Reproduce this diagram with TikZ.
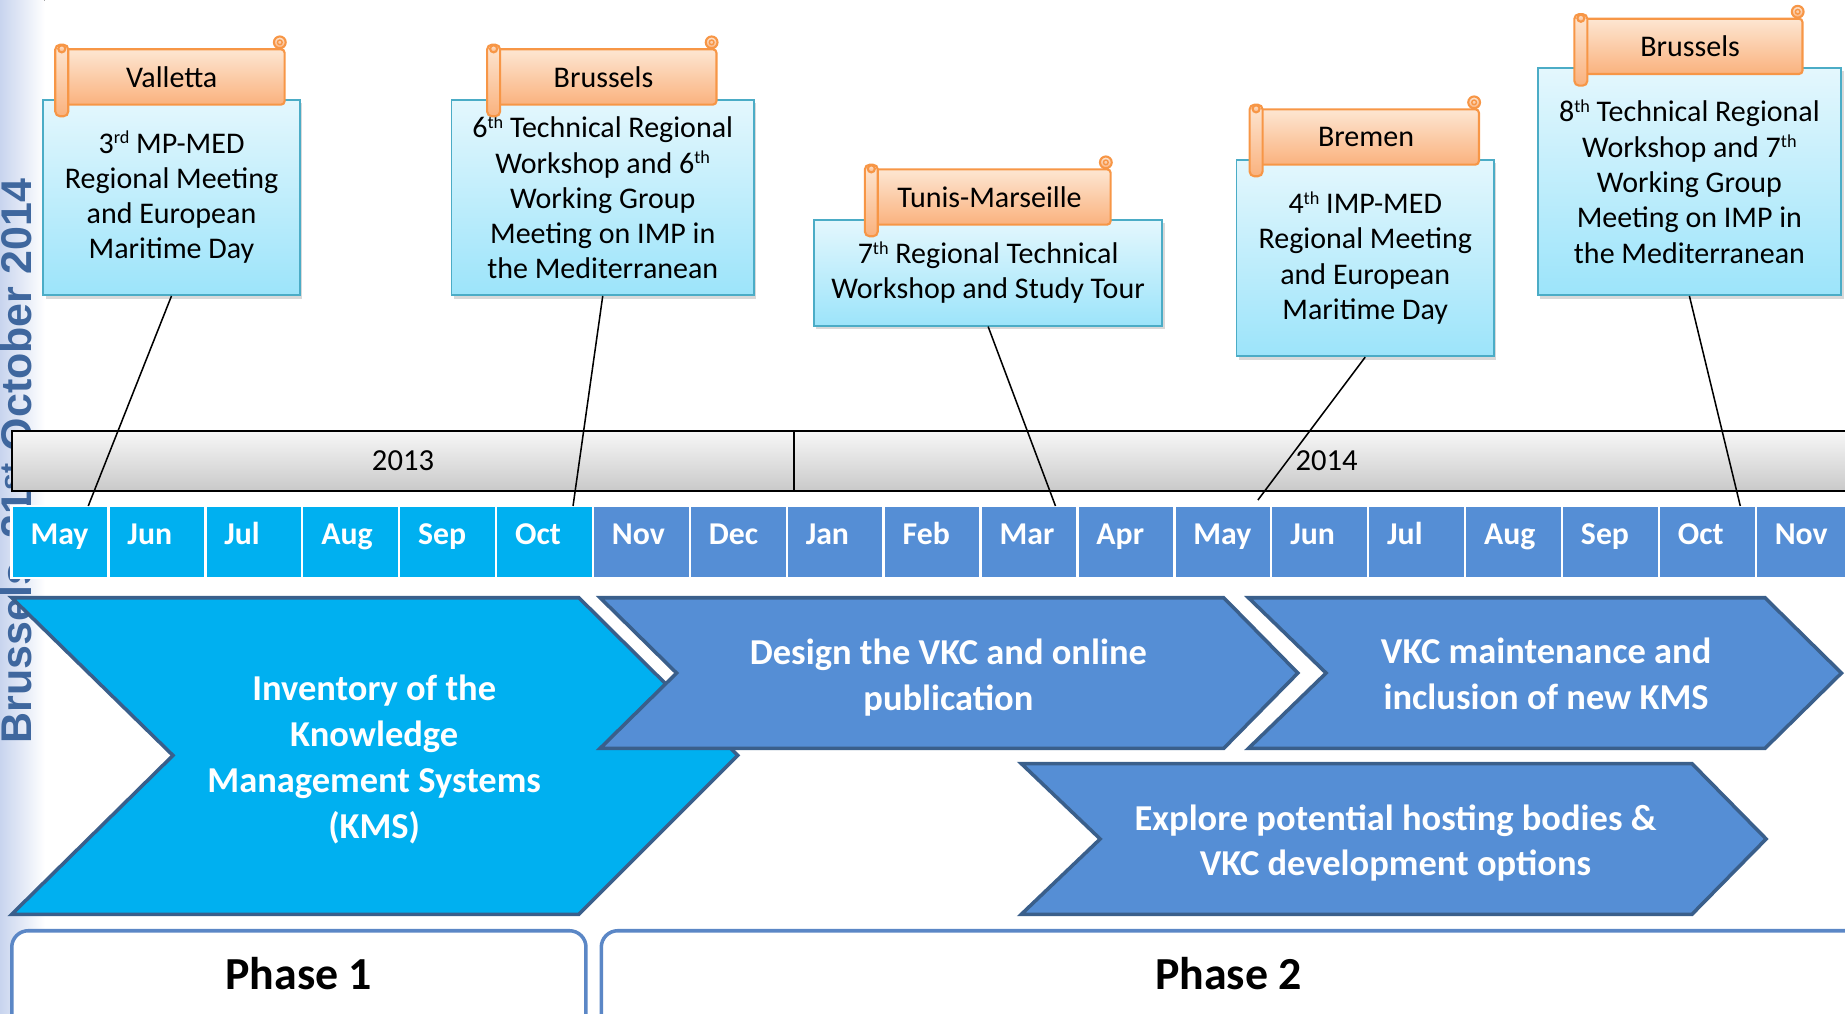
\documentclass[tikz,border=0pt]{standalone}
\usepackage{fontspec}
\setmainfont{Carlito}
\newfontfamily\datefont{Liberation Sans}
\usetikzlibrary{shadows}

\definecolor{kcyan}{HTML}{00B0F0}
\definecolor{kblue}{HTML}{558ED5}
\definecolor{kdark}{HTML}{3A5F8B}
\definecolor{kteal}{HTML}{4BACC6}
\definecolor{boxtop}{HTML}{E4F7FD}
\definecolor{boxbot}{HTML}{9CE4FA}
\definecolor{korange}{HTML}{F79646}
\definecolor{peachtop}{HTML}{FDE6D2}
\definecolor{peachbot}{HTML}{FAB27E}
\definecolor{phaseblue}{HTML}{5B87C6}
\definecolor{dateblue}{HTML}{3F679E}
\definecolor{band}{HTML}{C8D4EE}

\newcommand{\boxfont}{\fontsize{25.5}{30}\selectfont}
\newcommand{\chevfont}{\bfseries\fontsize{31}{39}\selectfont}
\newcommand{\sups}[1]{\raisebox{8pt}{\fontsize{15.5}{16}\selectfont #1}}

% banner with its two rolled ends
\newcommand{\scrollbanner}[5]{%
  \node[scroll, minimum width=#4, anchor=north west] (#1) at (#2,#3) {#5};
  \draw[scrollroll] ([xshift=-2pt,yshift=3pt]#1.north west) rectangle ([xshift=9pt,yshift=-9pt]#1.south west);
  \draw[scrollroll] ([xshift=3.5pt,yshift=-0.5pt]#1.north west) circle[radius=3pt];
  \draw[scrollroll] ([xshift=-5pt,yshift=5pt]#1.north east) circle[radius=5pt];
  \draw[korange, line width=1.2pt] ([xshift=-5pt,yshift=5pt]#1.north east) circle[radius=2pt];
}

\begin{document}
\begin{tikzpicture}[x=1pt, y=-1pt,
    infobox/.style={draw=kteal, line width=1.5pt, top color=boxtop, bottom color=boxbot,
      align=center, anchor=north west, inner sep=0pt, font=\boxfont,
      drop shadow={opacity=0.3, shadow xshift=2pt, shadow yshift=-3pt}},
    scroll/.style={draw=korange, line width=1.8pt, rounded corners=3pt, top color=peachtop,
      bottom color=peachbot, minimum height=47pt, inner sep=0pt, font=\fontsize{25.5}{30}\selectfont},
    scrollroll/.style={draw=korange, line width=1.8pt, rounded corners=4pt, top color=peachtop, bottom color=peachbot},
    yearbar/.style={draw=black, line width=1.5pt, top color=gray!6, bottom color=gray!42,
      minimum height=51pt, inner sep=0pt, font=\fontsize{26}{30}\selectfont},
    month/.style={draw=white, line width=2pt, minimum width=82.35pt, minimum height=61pt, inner sep=0pt,
      text width=50pt, align=left, text=white, font=\bfseries\fontsize{27}{30}\selectfont,
      text height=18pt, text depth=14pt},
    chevA/.style={draw=kdark, line width=3pt, fill=kcyan},
    chevB/.style={draw=kdark, line width=3pt, fill=kblue},
    chevtext/.style={text=white, align=center, font=\chevfont},
    phasebox/.style={draw=phaseblue, line width=3pt, rounded corners=14pt, fill=white},
    link/.style={black, line width=1.3pt}]

    \useasboundingbox (0,0) rectangle (1568,861);

    % date band on the left
    \fill[left color=band, right color=white] (0,0) rectangle (38,861);
    \node[rotate=90, anchor=base west, text=dateblue, inner sep=0pt,
      font=\datefont\bfseries\fontsize{36.5}{40}\selectfont] (date) at (27,632) {Brussels, 21\textsuperscript{st} October 2014};

    % years
    \node[yearbar, minimum width=665pt] (y13) at (342.5,391.5) {2013};
    \node[yearbar, minimum width=905pt] (y14) at (1127.5,391.5) {2014};

    % months
    \foreach \m [count=\i from 0] in {May,Jun,Jul,Aug,Sep,Oct}
        \node[month, fill=kcyan] (m\i) at ({51+82.35*\i},460.5) {\m};
    \foreach \m [count=\i from 6] in {Nov,Dec,Jan,Feb,Mar,Apr,May,Jun,Jul,Aug,Sep,Oct,Nov}
        \node[month, fill=kblue] (m\i) at ({51+82.35*\i},460.5) {\m};

    % chevrons
    \draw[chevA] (10,508) -- (492,508) -- (627,642) -- (492,777) -- (10,777) -- (147,642) -- cycle;
    \draw[chevB] (510,508) -- (1040,508) -- (1103,572) -- (1040,636) -- (510,636) -- (575,572) -- cycle;
    \draw[chevB] (1061,508) -- (1500,508) -- (1565,572) -- (1500,636) -- (1061,636) -- (1127,572) -- cycle;
    \draw[chevB] (868,649) -- (1438,649) -- (1501,713) -- (1438,777) -- (868,777) -- (935,713) -- cycle;

    \node[chevtext] (inv) at (318,645.5) {Inventory of the\\Knowledge\\Management Systems\\(KMS)};
    \node[chevtext] (design) at (806,575.5) {Design the VKC and online\\publication};
    \node[chevtext] (maint) at (1314,572.5) {VKC maintenance and\\inclusion of new KMS};
    \node[chevtext] (explore) at (1186,716.5) {Explore potential hosting bodies \&\\VKC development options};

    % phases
    \draw[phasebox] (10,791) rectangle (498,890);
    \draw[phasebox] (511,791) rectangle (1600,890);
    \node[font=\bfseries\fontsize{39}{40}\selectfont] (ph1) at (254,827) {Phase 1};
    \node[font=\bfseries\fontsize{39}{40}\selectfont] (ph2) at (1044,827) {Phase 2};

    % events
    \node[infobox, minimum width=218pt, minimum height=166pt] (valbox) at (36,84)
        {3\sups{rd} MP-MED\\Regional Meeting\\and European\\Maritime Day};
    \node[infobox, minimum width=257pt, minimum height=166pt] (brubox) at (383,84)
        {6\sups{th} Technical Regional\\Workshop and 6\sups{th}\\Working Group\\Meeting on IMP in\\the Mediterranean};
    \node[infobox, minimum width=296pt, minimum height=90pt] (tunbox) at (691,186)
        {7\sups{th} Regional Technical\\Workshop and Study Tour};
    \node[infobox, minimum width=219pt, minimum height=167pt] (brebox) at (1050,135)
        {4\sups{th} IMP-MED\\Regional Meeting\\and European\\Maritime Day};
    \node[infobox, minimum width=258pt, minimum height=193pt] (brutwobox) at (1306,57)
        {8\sups{th} Technical Regional\\Workshop and 7\sups{th}\\Working Group\\Meeting on IMP in\\the Mediterranean};

    \scrollbanner{val}{49}{41}{192pt}{Valletta}
    \scrollbanner{bru}{416}{41}{192pt}{Brussels}
    \scrollbanner{tun}{737}{143}{206pt}{Tunis-Marseille}
    \scrollbanner{bre}{1064}{92}{192pt}{Bremen}
    \scrollbanner{brutwo}{1340}{15}{191pt}{Brussels}

    % connectors
    \coordinate (t1) at (75,430);
    \coordinate (t2) at (487,430);
    \coordinate (t3) at (897,430);
    \coordinate (t4) at (1069,425);
    \coordinate (t5) at (1479,430);
    \draw[link] (valbox.south) -- (t1);
    \draw[link] (brubox.south) -- (t2);
    \draw[link] (tunbox.south) -- (t3);
    \draw[link] (brebox.south) -- (t4);
    \draw[link] (brutwobox.south) -- (t5);

\end{tikzpicture}
\end{document}
